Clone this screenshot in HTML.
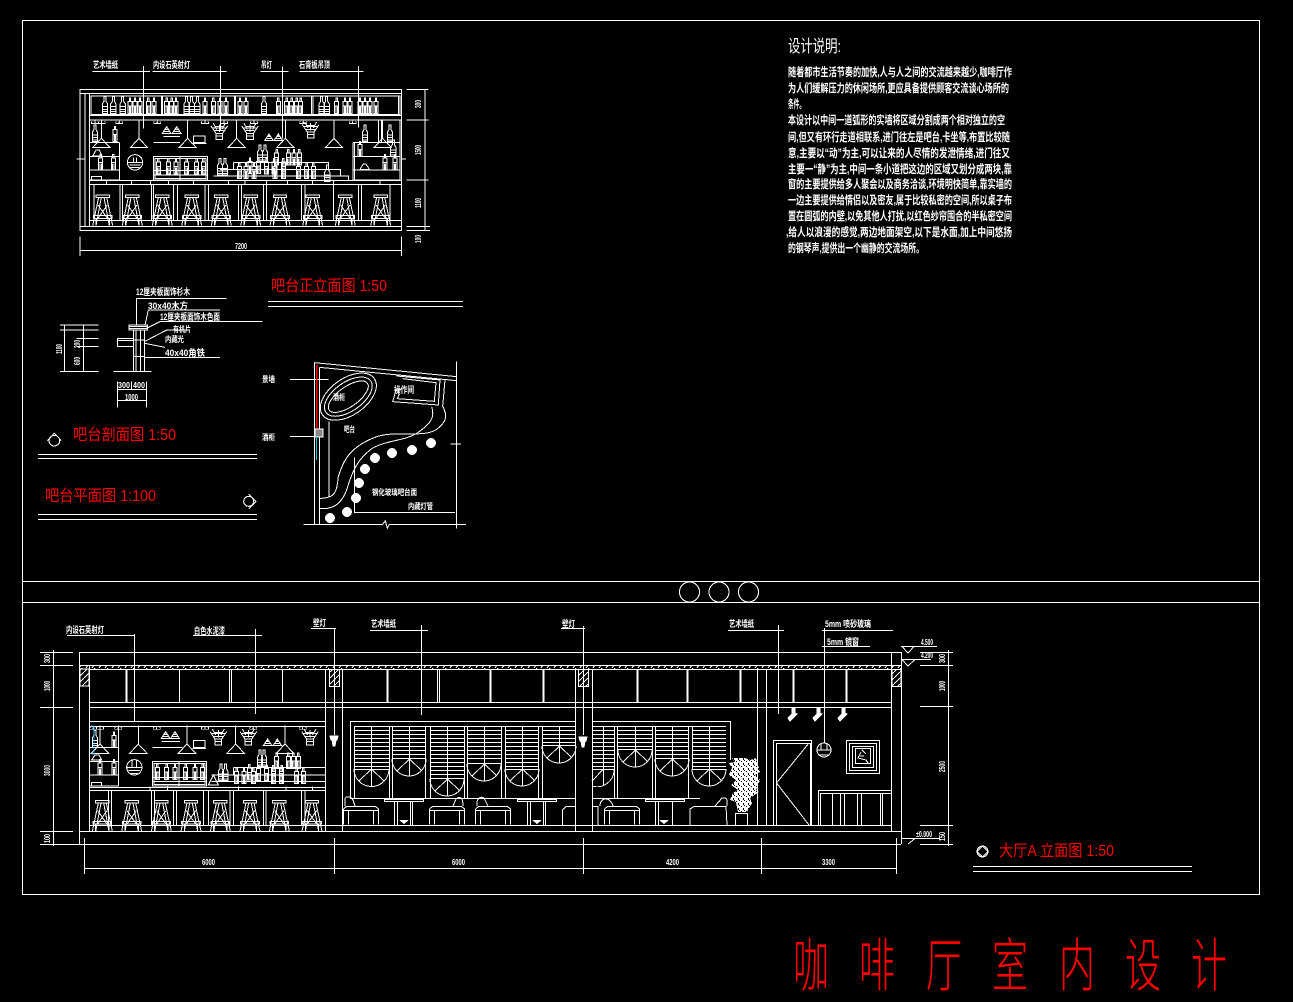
<!DOCTYPE html>
<html lang="zh"><head><meta charset="utf-8"><title>咖啡厅室内设计</title>
<style>
html,body{margin:0;padding:0;background:#000;width:1293px;height:1002px;overflow:hidden}
svg{display:block}
.l{fill:none;stroke:#fff;stroke-width:1}
.z{fill:none;stroke:#fff;stroke-width:3}
text{font-family:"Liberation Sans","WenQuanYi Zen Hei","Noto Sans CJK SC",sans-serif;fill:#fff;stroke:none}
.s{font-size:9px;font-weight:700}
.d{font-size:8px;font-weight:700}
.b{font-size:11.5px;font-weight:700}
.r{fill:#f00;font-size:16px}
.t{fill:#f00;font-size:58px;font-weight:300}
</style></head><body>
<svg width="1293" height="1002" viewBox="0 0 1293 1002" shape-rendering="crispEdges" xmlns="http://www.w3.org/2000/svg">
<defs>
<g id="stool"><path d="M-20 0h40v7h-40zM-12 7L-30 92M12 7L30 92M-4 7L-20 92M4 7L20 92M-14 30L14 70M14 30L-14 70M-28 62h56v8h-56zM-20 70v22M20 70v22"/></g>
<g id="pend"><path d="M0 0L26 28H-26ZM0 0V-55"/></g>
<g id="bot"><path d="M-3 0h6v14l5 8v28h-16v-28l5-8zM-8 30h16M-8 38h16M-8 45h16"/></g>
<g id="bot2"><path d="M-6 14h12v36h-12zM-2 14v-10h4v10M-6 28h12M-2 30v20M2 30v20"/></g>
<g id="flow"><path d="M-25 -10L-10 12H10L25 -10M-18 -18L-8 0M18 -18L8 0M0 -15V8M-12 -8L12 -8M-10 12V30H10V12M-20 -4L20 -4M-14 4H14M-10 20H10"/></g>
<g id="bell"><path d="M0 0L13 20H-13ZM-6 8H6M-9 14H9M-4 4H4"/></g>
<g id="cup"><path d="M-10 0h-5v8h14v-8M10 0h5v8h-14v-8M0 0v-4" transform="scale(.7)"/></g>
<g id="lamp"><path d="M-4 0H4L3 4H2L1 10H-1L-2 4H-3Z" fill="#fff" stroke="#fff"/></g>
<g id="spot"><path d="M-1 0h3v5l2 1-7 7-2-3 4-4z" fill="#fff" stroke="#fff"/></g>
<g id="sofa"><path d="M0 2.500L3 0H32L35 2.500V18M0 2.500V18M0 4H35M5 4V18M30 4V18"/></g>
<pattern id="h1" width="13" height="4" patternUnits="userSpaceOnUse"><path d="M1 4L4 0M8 4L10 1" stroke="#fff" stroke-width="1"/></pattern>
<pattern id="h2" width="6" height="6" patternUnits="userSpaceOnUse"><path d="M0 6L6 0" stroke="#fff" stroke-width="1"/></pattern>
<pattern id="leaf" width="5" height="5" patternUnits="userSpaceOnUse"><rect width="5" height="5" fill="#fff"/><rect x="1" y="1" width="1" height="1" fill="#000"/><rect x="3" y="3" width="1" height="2" fill="#000"/><rect x="4" y="0" width="1" height="1" fill="#000"/></pattern>
</defs>
<rect width="1293" height="1002" fill="#000"/>

<!-- frame -->
<g class="l">
<rect x="22.500" y="20.500" width="1237" height="874"/>
<path d="M22 581.500H1259M22 602.500H1259"/>
<circle cx="689.500" cy="592" r="10"/><circle cx="719" cy="592" r="10"/><circle cx="748.500" cy="592" r="10"/>
</g>

<!-- bar front elevation -->
<g class="z" transform="translate(70,50) scale(.33333)">
<path d="M68 64H240M220 48V235M248 64H470M451 48V240M572 64H655M637 50V265M688 64H880M865 48V232"/>
<rect x="30" y="118" width="965" height="424"/>
<path d="M30 130H995M45 130V530M58 130V530M30 530H995"/>
<rect x="63" y="138" width="927" height="55"/>
<path d="M274 138V193M278 138V193M493 138V193M497 138V193M725 138V193M729 138V193M985 138V193M58 197H995M58 210H995"/>
<path d="M149 277V390M60 277H149M60 320H149M60 360H149M60 390H149M849 277V390M853 277V390M849 277H990M849 320H990M849 360H990M849 390H990M990 210V392M925 210V277M935 210V277"/>
<path d="M58 392H995M58 403H995M58 512H995M110 392v11M185 392v11M242 392v11M295 392v11M370 392v11M475 392v11M525 392v11M590 392v11M652 392v11M728 392v11M790 392v11M930 392v11"/>
<path d="M72 403V512M150 403V512M158 403V512M245 403V512M250 403V512M310 403V512M322 403V512M405 403V512M415 403V512M505 403V512M515 403V512M580 403V512M590 403V512M695 403V512M705 403V512M790 403V512M866 403V512M875 403V512M960 403V512"/>
<use href="#stool" x="98" y="435"/><use href="#stool" x="187" y="435"/><use href="#stool" x="277" y="435"/><use href="#stool" x="365" y="435"/><use href="#stool" x="454" y="435"/><use href="#stool" x="542" y="435"/><use href="#stool" x="630" y="435"/><use href="#stool" x="728" y="435"/><use href="#stool" x="826" y="435"/><use href="#stool" x="932" y="435"/>
<use href="#pend" x="94" y="265"/><use href="#pend" x="207" y="265"/><use href="#pend" x="353" y="265"/><use href="#pend" x="500" y="265"/><use href="#pend" x="646" y="265"/><use href="#pend" x="792" y="265"/><use href="#pend" x="938" y="265"/>
<!-- top shelf bottles -->
<use href="#bot" x="105" y="140"/><use href="#bot" x="130" y="140"/><use href="#bot" x="158" y="140"/><use href="#bot2" x="180" y="140"/><use href="#bot2" x="195" y="140"/><use href="#bot2" x="210" y="140"/><use href="#bot2" x="235" y="140"/><use href="#bot2" x="252" y="140"/>
<use href="#bot2" x="290" y="140"/><use href="#bot2" x="305" y="140"/><use href="#bot2" x="318" y="140"/><use href="#bot" x="350" y="140"/><use href="#bot" x="365" y="140"/><use href="#bot" x="382" y="140"/><use href="#bot2" x="405" y="140"/><use href="#bot2" x="430" y="140"/><use href="#bot2" x="450" y="140"/><use href="#bot2" x="468" y="140"/>
<use href="#bot2" x="510" y="140"/><use href="#bot2" x="528" y="140"/><use href="#bot" x="582" y="140"/><use href="#bot2" x="625" y="140"/><use href="#bot2" x="650" y="140"/><use href="#bot2" x="665" y="140"/><use href="#bot2" x="680" y="140"/><use href="#bot2" x="692" y="140"/>
<use href="#bot" x="755" y="140"/><use href="#bot" x="770" y="140"/><use href="#bot2" x="800" y="140"/><use href="#bot2" x="825" y="140"/><use href="#bot2" x="840" y="140"/><use href="#bot2" x="870" y="140"/><use href="#bot2" x="885" y="140"/><use href="#bot2" x="900" y="140"/><use href="#bot2" x="918" y="140"/>
<!-- cups -->
<use href="#cup" x="75" y="215"/><use href="#cup" x="95" y="215"/><use href="#cup" x="148" y="215"/><use href="#cup" x="262" y="215"/><use href="#cup" x="405" y="215"/><use href="#cup" x="462" y="215"/><use href="#cup" x="552" y="215"/><use href="#cup" x="700" y="215"/><use href="#cup" x="848" y="215"/>
<!-- hanging -->
<use href="#flow" x="448" y="238"/><use href="#flow" x="540" y="238"/><use href="#flow" x="722" y="234"/>
<use href="#bell" x="290" y="230"/><use href="#bell" x="320" y="230"/><use href="#bell" x="597" y="252"/><use href="#bell" x="625" y="252"/>
<path d="M250 277H330M365 280H410M280 260H330M370 258h35v20h-35z"/>
<!-- side bottles -->
<use href="#bot" x="75" y="225"/><use href="#bot2" x="135" y="225"/><use href="#bot" x="885" y="225"/><use href="#bot" x="960" y="225"/><use href="#bot2" x="92" y="310"/><use href="#bot2" x="130" y="310"/><use href="#bot2" x="870" y="270"/><use href="#bot" x="970" y="270"/><use href="#bot2" x="945" y="310"/><use href="#bot2" x="975" y="310"/>
<path d="M68 318h28l-8-18h-10zM870 358h28l-10-16h-8zM65 390h30v-10h-30z"/>
<!-- round lamp -->
<circle cx="195" cy="337" r="23"/><path d="M172 337H218M178 345H212M182 352H208M190 322V337M200 322V337"/>
<!-- cabinet -->
<rect x="250" y="320" width="163" height="70"/><rect x="255" y="325" width="153" height="60"/><path d="M330 320V390M250 362H413M250 375H413"/>
<use href="#bot2" x="265" y="322"/><use href="#bot2" x="295" y="322"/><use href="#bot2" x="318" y="322"/><use href="#bot2" x="350" y="322"/><use href="#bot2" x="380" y="322"/><use href="#bot2" x="400" y="322"/>
<!-- steps -->
<path d="M490 337H775V358M490 337V358M450 358H812V378M430 378H835V390"/>
<use href="#bot" x="570" y="285"/><use href="#bot" x="585" y="285"/><use href="#bot2" x="620" y="295"/><use href="#bot2" x="655" y="295"/><use href="#bot2" x="672" y="295"/><use href="#bot2" x="688" y="295"/>
<use href="#bot" x="450" y="325"/><use href="#bot" x="465" y="325"/><use href="#bot2" x="540" y="320"/><use href="#bot2" x="565" y="320"/><use href="#bot2" x="590" y="322"/><use href="#bot2" x="612" y="322"/><use href="#bot2" x="640" y="322"/><use href="#bot2" x="508" y="335"/><use href="#bot2" x="528" y="335"/><use href="#bot2" x="552" y="335"/><use href="#bot2" x="615" y="335"/><use href="#bot2" x="640" y="335"/><use href="#bot2" x="685" y="335"/><use href="#bot2" x="710" y="335"/><use href="#bot2" x="730" y="335"/><use href="#bot" x="772" y="345"/>
<!-- dims -->
<path d="M1010 118H1075M1010 210H1075M1010 390H1075M1010 530H1080M1010 542H1080M1065 118V542M30 560V618M995 560V618M30 602H995M20 327H45M995 327H1008"/>
</g>
<text class="s" x="93" y="68" textLength="25" lengthAdjust="spacingAndGlyphs">艺术墙纸</text>
<text class="s" x="153" y="68" textLength="37" lengthAdjust="spacingAndGlyphs">内设石英射灯</text>
<text class="s" x="261" y="68" textLength="11" lengthAdjust="spacingAndGlyphs">吊灯</text>
<text class="s" x="299" y="68" textLength="31" lengthAdjust="spacingAndGlyphs">石膏板吊顶</text>
<text class="d" x="235" y="249" textLength="12" lengthAdjust="spacingAndGlyphs">7200</text>
<text class="d" transform="translate(421,108) rotate(-90)" textLength="8" lengthAdjust="spacingAndGlyphs">300</text>
<text class="d" transform="translate(421,155) rotate(-90)" textLength="10" lengthAdjust="spacingAndGlyphs">1500</text>
<text class="d" transform="translate(421,208) rotate(-90)" textLength="10" lengthAdjust="spacingAndGlyphs">1100</text>
<text class="d" transform="translate(421,243) rotate(-90)" textLength="8" lengthAdjust="spacingAndGlyphs">100</text>
<text class="r" x="271" y="291" textLength="116" lengthAdjust="spacingAndGlyphs">吧台正立面图 1:50</text>
<path class="l" d="M268 301.500H463M268 306.500H463"/>

<!-- section + plan -->
<g class="z" transform="translate(30,270) scale(.33333)">
<path d="M90 165H205M90 180H205M140 206H205M140 230H205M90 304H205M104 165V304M160 165V304"/>
<path d="M250 304H365M310 180V304M318 180V304M332 180V304M343 180V304M310 210H343M310 260H343"/>
<rect x="297" y="165" width="55" height="15"/><path d="M297 170H352M297 175H352"/>
<rect x="262" y="205" width="48" height="25"/><path d="M262 212H310"/>
<path d="M320 165V85H590M345 165L355 120H570M350 175L390 155H698M343 215L410 180H480M345 220L405 232M345 262H570"/>
<path d="M262 335V412M305 335V358M350 335V412M262 358H350M262 392H350"/>
<!-- marks -->
<circle cx="73" cy="512" r="16"/><path d="M52 512L73 490L94 512"/>
<circle cx="656" cy="694" r="15"/><path d="M656 672L678 694L656 716"/>
<!-- plan -->
<path d="M854 278L1280 320M854 278V763M868 292V763M868 292L1280 332M820 763H1058L1066 752L1072 775L1078 763H1308M1280 275V775M1262 522H1293"/>
<path d="M780 328H895M780 500H878M897 455V680M973 562V727H1275"/>
<path d="M1100 318L1230 330L1225 405L1088 395L1098 360L1115 358M1118 326L1218 338L1213 394L1102 386L1108 372"/>
<path d="M1245 330L1238 408C1248 430 1258 450 1220 478C1180 505 1100 480 1040 500C960 530 940 570 925 620C920 660 920 685 870 685"/>
<path d="M1205 410C1215 440 1205 460 1160 490C1120 515 1060 510 1020 540C990 565 970 590 950 660C935 700 910 720 870 715"/>
<g transform="rotate(-35 955 380)"><ellipse cx="955" cy="380" rx="95" ry="55"/><ellipse cx="955" cy="380" rx="82" ry="43"/><ellipse cx="955" cy="380" rx="70" ry="30"/></g>
</g>
<g fill="#fff">
<circle cx="431" cy="443" r="5"/><circle cx="412" cy="450" r="5"/><circle cx="392" cy="453" r="5"/><circle cx="375" cy="458" r="5"/><circle cx="365" cy="469" r="5"/><circle cx="359" cy="483" r="5"/><circle cx="356" cy="498" r="5"/><circle cx="347" cy="512" r="5"/><circle cx="330" cy="518" r="5"/>
</g>
<path d="M316.500 365V430" stroke="#f00" stroke-width="1.500" fill="none"/>
<rect x="315" y="429" width="8" height="8" fill="#888" stroke="#fff"/>
<path d="M316.500 437V460" stroke="#0cc" fill="none"/>

<text class="s" x="136" y="295" textLength="54" lengthAdjust="spacingAndGlyphs">12厘夹板面饰杉木</text>
<text class="s" x="148" y="309" textLength="40" lengthAdjust="spacingAndGlyphs">30x40木方</text>
<text class="s" x="160" y="320" textLength="60" lengthAdjust="spacingAndGlyphs">12厘夹板面饰木色面</text>
<text class="d" x="173" y="332" textLength="18" lengthAdjust="spacingAndGlyphs">有机片</text>
<text class="d" x="165" y="342" textLength="19" lengthAdjust="spacingAndGlyphs">内藏光</text>
<text class="s" x="165" y="356" textLength="40" lengthAdjust="spacingAndGlyphs">40x40角铁</text>
<text class="d" x="118" y="388" textLength="12" lengthAdjust="spacingAndGlyphs">300</text>
<text class="d" x="133" y="388" textLength="12" lengthAdjust="spacingAndGlyphs">400</text>
<text class="d" x="125" y="400" textLength="13" lengthAdjust="spacingAndGlyphs">1000</text>
<text class="d" transform="translate(62,354) rotate(-90)" textLength="10" lengthAdjust="spacingAndGlyphs">1100</text>
<text class="d" transform="translate(80,348) rotate(-90)" textLength="8" lengthAdjust="spacingAndGlyphs">200</text>
<text class="d" transform="translate(80,365) rotate(-90)" textLength="8" lengthAdjust="spacingAndGlyphs">600</text>
<text class="d" x="262" y="382" textLength="13" lengthAdjust="spacingAndGlyphs">景墙</text>
<text class="d" x="262" y="440" textLength="13" lengthAdjust="spacingAndGlyphs">酒柜</text>
<text class="s" x="394" y="393" textLength="20" lengthAdjust="spacingAndGlyphs">操作间</text>
<text class="d" x="333" y="400" textLength="12" lengthAdjust="spacingAndGlyphs">酒柜</text>
<text class="d" x="344" y="432" textLength="11" lengthAdjust="spacingAndGlyphs">吧台</text>
<text class="d" x="372" y="495" textLength="45" lengthAdjust="spacingAndGlyphs">钢化玻璃吧台面</text>
<text class="d" x="408" y="509" textLength="25" lengthAdjust="spacingAndGlyphs">内藏灯管</text>
<text class="r" x="73" y="440" textLength="103" lengthAdjust="spacingAndGlyphs">吧台剖面图 1:50</text>
<text class="r" x="45" y="501" textLength="111" lengthAdjust="spacingAndGlyphs">吧台平面图 1:100</text>
<path class="l" d="M38 454.500H257M38 458.500H257M38 514.500H257M38 519.500H257"/>

<!-- notes -->
<text x="788" y="52" font-size="17" textLength="53" lengthAdjust="spacingAndGlyphs">设计说明:</text>
<g class="b">
<text x="788" y="76" textLength="224" lengthAdjust="spacingAndGlyphs">随着都市生活节奏的加快,人与人之间的交流越来越少,咖啡厅作</text>
<text x="788" y="92" textLength="221" lengthAdjust="spacingAndGlyphs">为人们缓解压力的休闲场所,更应具备提供顾客交流谈心场所的</text>
<text x="788" y="108" textLength="17" lengthAdjust="spacingAndGlyphs">条件。</text>
<text x="788" y="124" textLength="217" lengthAdjust="spacingAndGlyphs">本设计以中间一道弧形的实墙将区域分割成两个相对独立的空</text>
<text x="788" y="141" textLength="222" lengthAdjust="spacingAndGlyphs">间,但又有环行走道相联系,进门往左是吧台,卡坐等,布置比较随</text>
<text x="788" y="157" textLength="222" lengthAdjust="spacingAndGlyphs">意,主要以“动”为主,可以让来的人尽情的发泄情绪,进门往又</text>
<text x="788" y="173" textLength="224" lengthAdjust="spacingAndGlyphs">主要一“静”为主,中间一条小道把这边的区域又划分成两块,靠</text>
<text x="788" y="188" textLength="224" lengthAdjust="spacingAndGlyphs">窗的主要提供给多人聚会以及商务洽谈,环境明快简单,靠实墙的</text>
<text x="788" y="204" textLength="224" lengthAdjust="spacingAndGlyphs">一边主要提供给情侣以及密友,属于比较私密的空间,所以桌子布</text>
<text x="788" y="220" textLength="224" lengthAdjust="spacingAndGlyphs">置在圆弧的内壁,以免其他人打扰,以红色纱帘围合的半私密空间</text>
<text x="786" y="236" textLength="226" lengthAdjust="spacingAndGlyphs">,给人以浪漫的感觉,两边地面架空,以下是水面,加上中间悠扬</text>
<text x="788" y="252" textLength="136" lengthAdjust="spacingAndGlyphs">的钢琴声,提供出一个幽静的交流场所。</text>
</g>

<!-- hall elevation -->
<g class="l">
<path d="M79.500 652.500H901.500M79.500 665.500H901.500M89 669.500H891M89 702.500H891M89 707.500H891M79.500 652V844M89.500 665V831M901.500 652V844M891.500 652V831M40 844.500H901M79 831.500H901M89 825.500H891"/>
<rect x="80" y="665" width="821" height="4" fill="url(#h1)" stroke="none"/>
<rect x="80" y="669" width="9" height="17" fill="url(#h2)"/>
<rect x="329.500" y="669.500" width="10" height="17" fill="url(#h2)"/>
<rect x="578.500" y="669.500" width="10" height="17" fill="url(#h2)"/>
<rect x="892" y="669.500" width="9" height="17" fill="url(#h2)"/>
<path d="M325.500 669V831M342.500 669V831M575.500 669V831M592.500 669V831"/>
<path d="M126 669V702M127 669V702M179.500 669V702M229.500 669V702M231.500 669V702M282.500 669V702M387 669V702M388 669V702M437.500 669V702M439.500 669V702M490 669V702M491 669V702M543 669V702M544 669V702M637 669V702M638 669V702M687 669V702M688 669V702M740 669V702M741 669V702M757.500 669V825M766.500 669V825M793 669V702M794 669V702M846 669V702M847 669V702"/>
<path d="M89 721.500H325M89 726.500H325M89 787.500H325M89 790.500H325"/>
</g>
<!-- left bar of hall -->
<g class="z" transform="translate(40,610) scale(.33333)">
<path d="M236 347V528M150 413H236M150 455H236M150 495H236M150 528H236"/>
<path d="M215 540V646M205 540V646M335 540V646M343 540V646M400 540V646M410 540V646M490 540V646M505 540V646M570 540V646M580 540V646M670 540V646M678 540V646M785 540V646M795 540V646"/>
<path d="M330 530v10M382 530v10M595 530v10M738 530v10M818 530v10"/>
<use href="#stool" x="187" y="572"/><use href="#stool" x="275" y="572"/><use href="#stool" x="364" y="572"/><use href="#stool" x="453" y="572"/><use href="#stool" x="541" y="572"/><use href="#stool" x="630" y="572"/><use href="#stool" x="718" y="572"/><use href="#stool" x="816" y="572"/>
<use href="#pend" x="180" y="402"/><use href="#pend" x="295" y="402"/><use href="#pend" x="441" y="402"/><use href="#pend" x="587" y="402"/><use href="#pend" x="735" y="402"/>
<circle cx="283" cy="472" r="23"/><path d="M260 472H306M266 482H300M272 490H294M276 452V472M290 452V472"/>
<use href="#flow" x="535" y="375"/><use href="#flow" x="625" y="375"/><use href="#flow" x="810" y="375"/>
<use href="#bell" x="377" y="365"/><use href="#bell" x="405" y="365"/><use href="#bell" x="683" y="387"/><use href="#bell" x="712" y="387"/>
<use href="#cup" x="160" y="352"/><use href="#cup" x="180" y="352"/><use href="#cup" x="235" y="352"/><use href="#cup" x="350" y="352"/><use href="#cup" x="495" y="352"/><use href="#cup" x="640" y="352"/><use href="#cup" x="788" y="352"/>
<path d="M337 412H428M458 415H498M365 395H420M460 392h35v20h-35z"/>
<use href="#bot" x="165" y="362"/><use href="#bot2" x="222" y="362"/><use href="#bot2" x="180" y="445"/><use href="#bot2" x="222" y="445"/>
<path d="M155 450h30l-8-15h-12zM155 528h30v-10h-30z"/>
<rect x="337" y="455" width="163" height="73"/><rect x="342" y="460" width="153" height="63"/><path d="M417 455V528M337 503H500M337 515H500"/>
<use href="#bot2" x="352" y="458"/><use href="#bot2" x="380" y="458"/><use href="#bot2" x="405" y="458"/><use href="#bot2" x="437" y="458"/><use href="#bot2" x="465" y="458"/><use href="#bot2" x="488" y="458"/>
<path d="M580 472H856M580 472V495M515 495H856M515 515H856"/>
<use href="#bot" x="660" y="420"/><use href="#bot" x="672" y="420"/><use href="#bot2" x="710" y="425"/><use href="#bot2" x="745" y="425"/><use href="#bot2" x="760" y="425"/><use href="#bot2" x="775" y="425"/>
<use href="#bot" x="543" y="462"/><use href="#bot" x="556" y="462"/><use href="#bot2" x="628" y="460"/><use href="#bot2" x="655" y="462"/><use href="#bot2" x="680" y="462"/><use href="#bot2" x="700" y="462"/><use href="#bot2" x="725" y="462"/>
<use href="#bot2" x="590" y="470"/><use href="#bot2" x="612" y="470"/><use href="#bot2" x="640" y="470"/><use href="#bot2" x="700" y="470"/><use href="#bot2" x="725" y="470"/><use href="#bot2" x="770" y="470"/><use href="#bot2" x="790" y="470"/>
<path d="M505 525l15-30 15 30z"/>
</g>
<path d="M91 726h3v28h-3" stroke="#0af" fill="none" opacity=".7"/>
<!-- windows -->
<g class="l">
<path d="M350.500 721.500H575M350.500 721V798M592 721.500H730.500V760M354 726.500H575M350 798.500H575M592 798.500H700M592 726.500H726M354.500 726V798M389.500 726V798M392.500 726V798M425.500 726V798M430.500 726V798M464.500 726V798M467.500 726V798M501.500 726V798M505.500 726V798M538.500 726V798M542.500 726V798M614.500 726V798M617.500 726V798M652.500 726V798M655.500 726V798M688.500 726V798M692.500 726V770"/>
<!-- shutter slats -->
<g>
<path d="M354 730.500H389M354 734.500H389M354 738.500H389M354 742.500H389M354 746.500H389M354 750.500H389M354 754.500H389M354 758.500H389M354 762.500H389M354 766.500H389M354 769.500H389"/>
<path d="M392 730.500H426M392 734.500H426M392 738.500H426M392 742.500H426M392 746.500H426M392 750.500H426M392 754.500H426M392 758.500H426"/>
<path d="M430 730.500H464M430 734.500H464M430 738.500H464M430 742.500H464M430 746.500H464M430 750.500H464M430 754.500H464M430 758.500H464M430 762.500H464M430 766.500H464M430 770.500H464M430 774.500H464M430 778.500H464"/>
<path d="M467 730.500H501M467 734.500H501M467 738.500H501M467 742.500H501M467 746.500H501M467 750.500H501M467 754.500H501M467 758.500H501M467 763.500H501"/>
<path d="M505 730.500H538M505 734.500H538M505 738.500H538M505 742.500H538M505 746.500H538M505 750.500H538M505 754.500H538M505 758.500H538M505 762.500H538M505 766.500H538M505 769.500H538"/>
<path d="M542 730.500H575M542 734.500H575M542 738.500H575M542 742.500H575M542 745.500H575"/>
<path d="M592 730.500H614M592 734.500H614M592 738.500H614M592 742.500H614M592 746.500H614M592 750.500H614M592 754.500H614M592 758.500H614M592 762.500H614M592 766.500H614M592 769.500H614"/>
<path d="M617 730.500H652M617 734.500H652M617 738.500H652M617 742.500H652M617 746.500H652M617 749.500H652"/>
<path d="M655 730.500H688M655 734.500H688M655 738.500H688M655 742.500H688M655 746.500H688M655 750.500H688M655 754.500H688M655 758.500H688"/>
<path d="M692 730.500H726M692 734.500H726M692 738.500H726M692 742.500H726M692 746.500H726M692 750.500H726M692 754.500H726M692 758.500H726M692 762.500H726M692 766.500H726M692 769.500H726"/>
<path d="M371.500 726V769M409.500 726V759M447.500 726V779M484.500 726V764M522.500 726V769M559.500 726V746M603.500 726V769M635.500 726V750M672.500 726V759M709.500 726V769"/>
</g>
<!-- arcs -->
<path d="M354 769A17.500 17.500 0 0 0 389 769M371.500 769V786.500M371.500 769L359 781M371.500 769L384 781"/>
<path d="M392 759A17 17 0 0 0 426 759M409.500 759V776M409.500 759L397 771M409.500 759L422 771"/>
<path d="M430 779A17 17 0 0 0 464 779M447.500 779V796M447.500 779L435 791M447.500 779L460 791"/>
<path d="M467 764A17 17 0 0 0 501 764M484.500 764V781M484.500 764L472 776M484.500 764L497 776"/>
<path d="M505 769A17 17 0 0 0 539 769M522.500 769V786M522.500 769L510 781M522.500 769L535 781"/>
<path d="M542 746A17 17 0 0 0 576 746M559.500 746V763M559.500 746L547 758M559.500 746L572 758"/>
<path d="M592 786A17 17 0 0 0 614 769M603.500 769V786M603.500 769L592 781"/>
<path d="M618 750A17 17 0 0 0 652 750M635.500 750V767M635.500 750L623 762M635.500 750L648 762"/>
<path d="M655 759A17 17 0 0 0 689 759M672.500 759V776M672.500 759L660 771M672.500 759L685 771"/>
<path d="M692 769A17 17 0 0 0 726 769M709.500 769V786M709.500 769L697 781M709.500 769L722 781"/>
<!-- tables -->
<path d="M384.500 799.500H423.500V801.500H384.500ZM394.500 802V825M397.500 802V825M410.500 802V825M412.500 802V825M517.500 799.500H556.500V801.500H517.500ZM527.500 802V825M530.500 802V825M543.500 802V825M545.500 802V825M645.500 799.500H684.500V801.500H645.500ZM655.500 802V825M658.500 802V825M672.500 802V825"/>
<!-- sofas -->
<use href="#sofa" x="343.500" y="806.500"/><use href="#sofa" x="429.500" y="806.500"/><use href="#sofa" x="475.500" y="806.500"/><use href="#sofa" x="604.500" y="806.500"/>
<path d="M562.500 825V810L566 806.500H575M592.500 806.500H598V825M690 825V809L694 806.500H726L727 825M345 806V799C345 796 351 796 353 800L355 806M453 806L456 799C460 796 463 797 463 806M477 806C476 798 481 796 484 798L488 806M600 806C600 797 610 796 613 806M715 806L722 798C728 797 727 800 727 806"/>
<!-- door, picture, wainscot -->
<rect x="773.500" y="740.500" width="38" height="85"/><rect x="776.500" y="743.500" width="34" height="82"/>
<path d="M809 743L776.500 783L809 825"/>
<rect x="846.500" y="740.500" width="33" height="33"/><rect x="849.500" y="743.500" width="27" height="27"/><rect x="852.500" y="746.500" width="21" height="21"/><rect x="855.500" y="748.500" width="15" height="15"/>
<path d="M861 752L858 758L866 760L868 763M860 756H864M862 750L866 754"/>
<path d="M818.500 825V790.500H891M820.500 825V793.500H891M832.500 794V825M840.500 794V825M844.500 794V825M857.500 794V825M861.500 794V825M880.500 794V825M882.500 794V825"/>
<!-- plant pot -->
<rect x="735.500" y="813.500" width="12" height="12"/>
<circle cx="824" cy="750" r="7"/><path d="M817 750H831M819 755H829M821 743V750M827 743V750"/>
<!-- leaders -->
<path d="M67 635.500H135M134.500 634V722M193 635.500H262M255.500 629V714M311 628.500H336M334.500 628V735M370 630.500H428M421.500 625V715M561 628.500H585M583.500 626V735M728 630.500H784M778.500 625V714M822 630.500H893M822 646.500H870M824.500 628V743"/>
<!-- dims -->
<path d="M53.500 650V846M40 652.500H73M40 665.500H73M40 707.500H73M40 831.500H73M84.500 838V874M334.500 838V874M583.500 838V874M761.500 838V874M896.500 838V874M84 868.500H896"/>
<path d="M901 646.500H937M901 659.500H931M901 838.500H940M902 646.500H914L908 653ZM902 659.500H915L908 666ZM902 838.500H915L908 844"/>
<path d="M920 652.500H953M920 665.500H953M920 706.500H953M920 825.500H953M920 844.500H953M948.500 650V846"/>
</g>
<use href="#lamp" x="334" y="736"/><use href="#lamp" x="583" y="737"/>
<use href="#spot" x="793" y="708"/><use href="#spot" x="818" y="708"/><use href="#spot" x="843" y="708"/>
<!-- plant foliage -->
<path d="M729 775L732 768L729 763L735 762L732 758L745 758L750 760L756 758L758 765L760 772L755 775L760 780L756 790L759 792L750 798L752 803L747 812L738 812L736 802L730 800L733 793L738 790L731 785L736 780Z" fill="url(#leaf)"/>
<g fill="#fff"><path d="M399 820l5 4 5-4zM532 820l5 4 5-4zM659 820l5 4 5-4z"/></g>

<text class="s" x="66" y="633" textLength="38" lengthAdjust="spacingAndGlyphs">内设石英射灯</text>
<text class="s" x="194" y="634" textLength="31" lengthAdjust="spacingAndGlyphs">白色水泥漆</text>
<text class="s" x="313" y="626" textLength="13" lengthAdjust="spacingAndGlyphs">壁灯</text>
<text class="s" x="371" y="627" textLength="25" lengthAdjust="spacingAndGlyphs">艺术墙纸</text>
<text class="s" x="562" y="627" textLength="13" lengthAdjust="spacingAndGlyphs">壁灯</text>
<text class="s" x="729" y="627" textLength="25" lengthAdjust="spacingAndGlyphs">艺术墙纸</text>
<text class="s" x="825" y="627" textLength="46" lengthAdjust="spacingAndGlyphs">5mm 喷砂玻璃</text>
<text class="s" x="827" y="645" textLength="32" lengthAdjust="spacingAndGlyphs">5mm 镜窗</text>
<text class="d" x="202" y="865" textLength="13" lengthAdjust="spacingAndGlyphs">6000</text>
<text class="d" x="452" y="865" textLength="13" lengthAdjust="spacingAndGlyphs">6000</text>
<text class="d" x="666" y="865" textLength="13" lengthAdjust="spacingAndGlyphs">4200</text>
<text class="d" x="822" y="865" textLength="13" lengthAdjust="spacingAndGlyphs">3300</text>
<text class="d" x="921" y="645" textLength="12" lengthAdjust="spacingAndGlyphs">4.500</text>
<text class="d" x="921" y="658" textLength="12" lengthAdjust="spacingAndGlyphs">4.200</text>
<text class="d" x="916" y="837" textLength="16" lengthAdjust="spacingAndGlyphs">±0.000</text>
<text class="d" transform="translate(50,663) rotate(-90)" textLength="9" lengthAdjust="spacingAndGlyphs">300</text>
<text class="d" transform="translate(50,691) rotate(-90)" textLength="10" lengthAdjust="spacingAndGlyphs">1000</text>
<text class="d" transform="translate(50,776) rotate(-90)" textLength="11" lengthAdjust="spacingAndGlyphs">3000</text>
<text class="d" transform="translate(50,843) rotate(-90)" textLength="9" lengthAdjust="spacingAndGlyphs">100</text>
<text class="d" transform="translate(945,663) rotate(-90)" textLength="9" lengthAdjust="spacingAndGlyphs">300</text>
<text class="d" transform="translate(945,691) rotate(-90)" textLength="10" lengthAdjust="spacingAndGlyphs">1000</text>
<text class="d" transform="translate(945,772) rotate(-90)" textLength="11" lengthAdjust="spacingAndGlyphs">2500</text>
<text class="d" transform="translate(945,841) rotate(-90)" textLength="9" lengthAdjust="spacingAndGlyphs">150</text>

<!-- hall title -->
<circle class="l" cx="982.500" cy="851.500" r="5.500"/>
<path class="l" d="M977 851.500L982.500 846L988 851.500L982.500 857Z"/>
<text class="r" x="999" y="856" textLength="115" lengthAdjust="spacingAndGlyphs">大厅A 立面图 1:50</text>
<path class="l" d="M973 866.500H1192M973 871.500H1192"/>

<!-- main title -->
<text class="t" transform="translate(793,986) scale(.62,1)">咖</text>
<text class="t" transform="translate(859,986) scale(.62,1)">啡</text>
<text class="t" transform="translate(926,986) scale(.62,1)">厅</text>
<text class="t" transform="translate(992,986) scale(.62,1)">室</text>
<text class="t" transform="translate(1059,986) scale(.62,1)">内</text>
<text class="t" transform="translate(1125,986) scale(.62,1)">设</text>
<text class="t" transform="translate(1191,986) scale(.62,1)">计</text>
</svg>
</body></html>
